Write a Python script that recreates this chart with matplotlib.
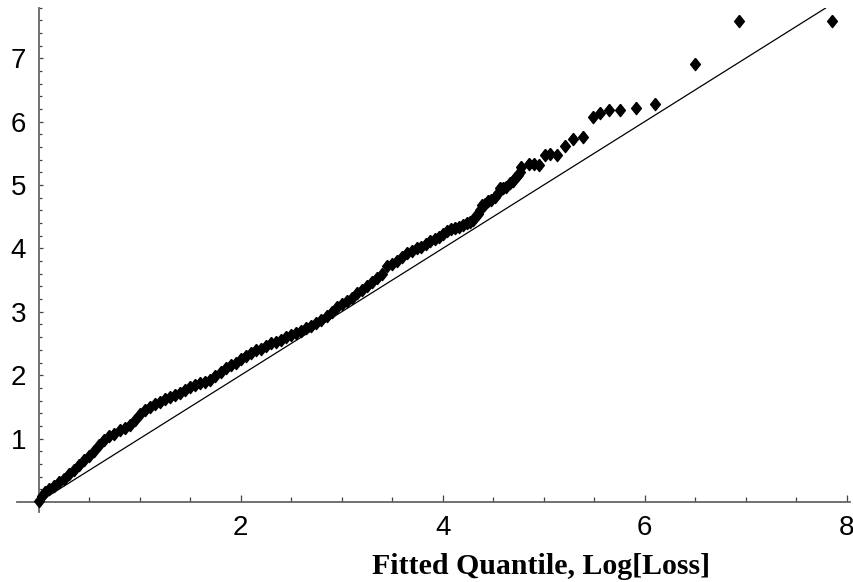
import matplotlib
matplotlib.use("Agg")
import matplotlib.pyplot as plt
from matplotlib.ticker import MultipleLocator, FixedLocator

# --- DATA ---
fitted_q = [
    0.00, 0.03, 0.06, 0.10, 0.15, 0.20, 0.25, 0.30, 0.35, 0.40,
    0.45, 0.50, 0.55, 0.60, 0.65, 0.70, 0.75, 0.80, 0.85, 0.90,
    0.95, 1.00, 1.05, 1.10, 1.15, 1.20, 1.25, 1.30, 1.35, 1.40,
    1.45, 1.50, 1.55, 1.60, 1.65, 1.70, 1.75, 1.80, 1.85, 1.90,
    1.95, 2.00, 2.05, 2.10, 2.15, 2.20, 2.25, 2.30, 2.35, 2.40,
    2.45, 2.50, 2.55, 2.60, 2.65, 2.70, 2.75, 2.80, 2.85, 2.90,
    2.95, 3.00, 3.05, 3.10, 3.15, 3.20, 3.25, 3.30, 3.35, 3.40,
    3.45, 3.50, 3.55, 3.60, 3.65, 3.70, 3.75, 3.79, 3.83, 3.87,
    3.92, 3.96, 4.00, 4.04, 4.08, 4.12, 4.16, 4.20, 4.24, 4.27,
    4.30, 4.32, 4.35, 4.37, 4.39, 4.42, 4.45, 4.48, 4.52, 4.55,
    4.57, 4.60, 4.63, 4.67, 4.70, 4.72, 4.75, 4.77, 4.78, 4.85,
    4.90, 4.95, 5.01, 5.06, 5.13, 5.21, 5.29, 5.39, 5.49, 5.56,
    5.65, 5.76, 5.91, 6.10, 6.50, 6.93, 7.85,
]
log_loss = [
    0.02, 0.10, 0.16, 0.21, 0.26, 0.31, 0.37, 0.44, 0.51, 0.58,
    0.66, 0.73, 0.80, 0.90, 0.98, 1.04, 1.08, 1.13, 1.17, 1.22,
    1.29, 1.38, 1.45, 1.50, 1.54, 1.58, 1.62, 1.66, 1.69, 1.72,
    1.77, 1.82, 1.85, 1.87, 1.90, 1.93, 1.98, 2.05, 2.11, 2.16,
    2.20, 2.25, 2.31, 2.35, 2.39, 2.42, 2.46, 2.50, 2.53, 2.56,
    2.60, 2.63, 2.67, 2.70, 2.74, 2.78, 2.82, 2.87, 2.94, 3.00,
    3.07, 3.12, 3.17, 3.22, 3.29, 3.35, 3.41, 3.47, 3.54, 3.60,
    3.72, 3.76, 3.80, 3.87, 3.92, 3.96, 4.00, 4.03, 4.07, 4.11,
    4.15, 4.18, 4.23, 4.28, 4.30, 4.32, 4.34, 4.37, 4.40, 4.42,
    4.45, 4.49, 4.55, 4.60, 4.68, 4.70, 4.74, 4.77, 4.81, 4.88,
    4.95, 4.96, 4.97, 5.03, 5.07, 5.11, 5.16, 5.21, 5.28, 5.33,
    5.33, 5.32, 5.47, 5.49, 5.47, 5.62, 5.73, 5.76, 6.08, 6.14,
    6.19, 6.19, 6.21, 6.27, 6.91, 7.59, 7.59,
]
ref_line = [0.0, 7.79]   # y = x reference line ends

x_major = [2, 4, 6, 8]
x_minor = [0.5, 1, 1.5, 2.5, 3, 3.5, 4.5, 5, 5.5, 6.5, 7, 7.5]
y_major = [1, 2, 3, 4, 5, 6, 7]

# --- PLOT ---
fig = plt.figure(figsize=(8.54, 5.82), dpi=100)
ax = fig.add_axes([17 / 854, 70 / 582, 833 / 854, 504.5 / 582])
ax.set_xlim(-0.215, 8.033)
ax.set_ylim(-0.158, 7.80)

diamond = [(0, 1), (0.8, 0), (0, -1), (-0.8, 0), (0, 1)]
ax.plot(fitted_q, log_loss, linestyle='none', marker=diamond,
        markersize=8.8, color='black', markeredgewidth=1.0, zorder=3)
ax.plot(ref_line, ref_line, color='black', linewidth=0.9, zorder=2)

# axes crossing at the origin
for side in ['top', 'right']:
    ax.spines[side].set_visible(False)
for side in ['left', 'bottom']:
    ax.spines[side].set_position(('data', 0))
    ax.spines[side].set_color('#666666')
    ax.spines[side].set_linewidth(1.3)

ax.xaxis.set_major_locator(FixedLocator(x_major))
ax.xaxis.set_minor_locator(FixedLocator(x_minor))
ax.yaxis.set_major_locator(FixedLocator(y_major))
ax.yaxis.set_minor_locator(MultipleLocator(0.2))

ax.tick_params(axis='x', which='major', direction='in', length=5, width=0.9,
               color='#444444', pad=9.5, labelsize=20)
ax.tick_params(axis='x', which='minor', direction='in', length=3.5, width=0.9, color='#444444')
ax.tick_params(axis='y', which='major', direction='in', length=3.0, width=0.9,
               color='#444444', pad=9, labelsize=20)
ax.tick_params(axis='y', which='minor', direction='in', length=1.8, width=0.9, color='#444444')
for lab in ax.get_xticklabels() + ax.get_yticklabels():
    lab.set_fontfamily('Liberation Sans')

fig.text(372 / 854, 1 - 574 / 582, 'Fitted Quantile, Log[Loss]',
         fontfamily='Liberation Serif', fontweight='bold', fontsize=21.5,
         ha='left', va='baseline')

fig.savefig('out.png', dpi=100)
